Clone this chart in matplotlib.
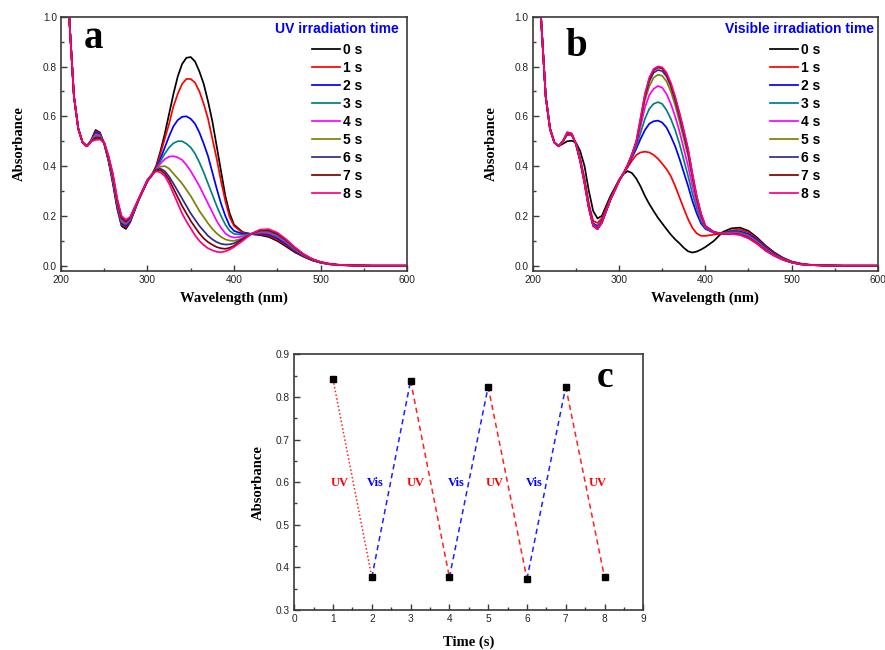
import matplotlib
matplotlib.use("Agg")
import matplotlib.pyplot as plt
from matplotlib.ticker import MultipleLocator

# longueurs d'onde communes (nm)
wl = [200, 205, 210, 215, 220, 225, 230, 235, 240, 245, 250, 255, 260, 265, 270, 275, 280, 290,
      300, 305, 310, 315, 320, 325, 330, 335, 340, 345, 350, 355, 360, 365, 370, 375, 380, 385, 390, 395, 400,
      410, 420, 430, 440, 450, 460, 470, 480, 490, 500, 510, 520, 540, 560, 600]

labels_t = ["0 s", "1 s", "2 s", "3 s", "4 s", "5 s", "6 s", "7 s", "8 s"]

# spectres sous irradiation UV (panel a)
a_0s = [1.8, 1.3, 0.97, 0.68, 0.55, 0.495, 0.48, 0.505, 0.545, 0.535, 0.49, 0.42, 0.33, 0.23, 0.16, 0.148, 0.175, 0.265,
        0.34, 0.365, 0.40, 0.46, 0.53, 0.61, 0.69, 0.76, 0.81, 0.835, 0.838, 0.82, 0.78, 0.73, 0.66, 0.58, 0.48, 0.38, 0.28, 0.21, 0.165,
        0.135, 0.127, 0.123, 0.116, 0.100, 0.078, 0.055, 0.037, 0.022, 0.012, 0.006, 0.003, 0.001, 0.0, 0.0]
a_1s = [1.8, 1.3, 0.97, 0.68, 0.55, 0.495, 0.48, 0.503, 0.54, 0.532, 0.49, 0.422, 0.335, 0.235, 0.165, 0.155, 0.178, 0.266,
        0.34, 0.363, 0.395, 0.45, 0.51, 0.57, 0.64, 0.69, 0.73, 0.75, 0.75, 0.735, 0.70, 0.65, 0.59, 0.51, 0.43, 0.34, 0.26, 0.195, 0.16,
        0.132, 0.128, 0.126, 0.121, 0.105, 0.083, 0.059, 0.039, 0.023, 0.013, 0.006, 0.003, 0.001, 0.0, 0.0]
a_2s = [1.8, 1.3, 0.97, 0.68, 0.55, 0.495, 0.48, 0.502, 0.535, 0.528, 0.49, 0.425, 0.34, 0.24, 0.17, 0.16, 0.18, 0.267,
        0.34, 0.362, 0.39, 0.43, 0.475, 0.52, 0.56, 0.585, 0.598, 0.60, 0.59, 0.57, 0.535, 0.49, 0.44, 0.375, 0.31, 0.25, 0.20, 0.16, 0.14,
        0.128, 0.128, 0.129, 0.126, 0.111, 0.088, 0.062, 0.041, 0.024, 0.013, 0.007, 0.003, 0.001, 0.0, 0.0]
a_3s = [1.8, 1.3, 0.97, 0.68, 0.55, 0.495, 0.48, 0.5, 0.53, 0.525, 0.49, 0.428, 0.345, 0.245, 0.175, 0.165, 0.183, 0.268,
        0.342, 0.362, 0.388, 0.42, 0.45, 0.475, 0.492, 0.50, 0.50, 0.49, 0.475, 0.45, 0.415, 0.375, 0.33, 0.285, 0.24, 0.20, 0.165, 0.14, 0.128,
        0.124, 0.128, 0.132, 0.130, 0.116, 0.093, 0.065, 0.042, 0.025, 0.014, 0.007, 0.003, 0.001, 0.0, 0.0]
a_4s = [1.8, 1.3, 0.97, 0.68, 0.55, 0.495, 0.48, 0.5, 0.525, 0.522, 0.492, 0.43, 0.35, 0.25, 0.18, 0.17, 0.186, 0.268,
        0.342, 0.362, 0.388, 0.41, 0.428, 0.438, 0.44, 0.435, 0.425, 0.405, 0.38, 0.35, 0.32, 0.285, 0.25, 0.215, 0.18, 0.152, 0.13, 0.118, 0.113,
        0.117, 0.128, 0.135, 0.134, 0.120, 0.097, 0.068, 0.044, 0.026, 0.014, 0.007, 0.003, 0.001, 0.0, 0.0]
a_5s = [1.8, 1.3, 0.97, 0.68, 0.55, 0.495, 0.48, 0.5, 0.52, 0.518, 0.492, 0.433, 0.355, 0.255, 0.185, 0.173, 0.19, 0.269,
        0.343, 0.363, 0.388, 0.398, 0.40, 0.39, 0.37, 0.35, 0.33, 0.305, 0.28, 0.25, 0.22, 0.195, 0.17, 0.148, 0.13, 0.116, 0.106, 0.101, 0.10,
        0.11, 0.128, 0.138, 0.138, 0.124, 0.100, 0.070, 0.045, 0.026, 0.014, 0.007, 0.003, 0.001, 0.0, 0.0]
a_6s = [1.8, 1.3, 0.97, 0.68, 0.55, 0.495, 0.48, 0.5, 0.515, 0.515, 0.493, 0.435, 0.36, 0.26, 0.19, 0.176, 0.192, 0.269,
        0.344, 0.365, 0.386, 0.39, 0.38, 0.358, 0.33, 0.30, 0.27, 0.24, 0.21, 0.185, 0.16, 0.14, 0.12, 0.106, 0.095, 0.088, 0.085, 0.086, 0.09,
        0.108, 0.128, 0.141, 0.141, 0.127, 0.103, 0.072, 0.046, 0.027, 0.015, 0.008, 0.004, 0.001, 0.0, 0.0]
a_7s = [1.8, 1.3, 0.97, 0.68, 0.55, 0.495, 0.48, 0.5, 0.51, 0.51, 0.494, 0.438, 0.365, 0.265, 0.195, 0.18, 0.194, 0.27,
        0.345, 0.366, 0.383, 0.384, 0.37, 0.345, 0.31, 0.275, 0.24, 0.21, 0.18, 0.155, 0.13, 0.11, 0.095, 0.084, 0.075, 0.07, 0.068, 0.072, 0.08,
        0.105, 0.128, 0.143, 0.144, 0.130, 0.105, 0.074, 0.047, 0.027, 0.015, 0.008, 0.004, 0.001, 0.0, 0.0]
a_8s = [1.8, 1.3, 0.97, 0.68, 0.55, 0.495, 0.48, 0.5, 0.505, 0.507, 0.495, 0.44, 0.37, 0.27, 0.20, 0.185, 0.196, 0.27,
        0.345, 0.367, 0.379, 0.375, 0.36, 0.33, 0.29, 0.25, 0.21, 0.178, 0.15, 0.122, 0.10, 0.083, 0.07, 0.062, 0.056, 0.054, 0.058, 0.065, 0.075,
        0.10, 0.128, 0.145, 0.147, 0.133, 0.107, 0.075, 0.048, 0.028, 0.015, 0.008, 0.004, 0.001, 0.0, 0.0]

# spectres sous irradiation visible (panel b)
b_0s = [1.8, 1.3, 0.97, 0.68, 0.55, 0.495, 0.48, 0.49, 0.50, 0.502, 0.495, 0.46, 0.40, 0.30, 0.22, 0.19, 0.20, 0.28,
        0.345, 0.368, 0.38, 0.372, 0.35, 0.318, 0.28, 0.248, 0.22, 0.193, 0.17, 0.147, 0.125, 0.106, 0.09, 0.072, 0.058, 0.053, 0.057, 0.065, 0.075,
        0.10, 0.135, 0.15, 0.153, 0.14, 0.113, 0.08, 0.053, 0.032, 0.017, 0.009, 0.004, 0.001, 0.0, 0.0]
b_1s = [1.8, 1.3, 0.97, 0.68, 0.55, 0.495, 0.48, 0.5, 0.525, 0.525, 0.49, 0.43, 0.35, 0.25, 0.18, 0.172, 0.19, 0.27,
        0.345, 0.37, 0.395, 0.422, 0.445, 0.455, 0.458, 0.455, 0.445, 0.43, 0.41, 0.388, 0.36, 0.32, 0.275, 0.23, 0.187, 0.152, 0.13, 0.12, 0.12,
        0.125, 0.13, 0.142, 0.145, 0.134, 0.108, 0.076, 0.05, 0.03, 0.016, 0.008, 0.004, 0.001, 0.0, 0.0]
b_2s = [1.8, 1.3, 0.97, 0.68, 0.55, 0.495, 0.48, 0.5, 0.53, 0.528, 0.49, 0.425, 0.34, 0.24, 0.17, 0.16, 0.18, 0.268,
        0.343, 0.37, 0.40, 0.435, 0.47, 0.51, 0.545, 0.57, 0.58, 0.583, 0.575, 0.555, 0.52, 0.48, 0.43, 0.375, 0.32, 0.26, 0.21, 0.17, 0.148,
        0.132, 0.13, 0.138, 0.138, 0.127, 0.103, 0.072, 0.047, 0.028, 0.015, 0.008, 0.004, 0.001, 0.0, 0.0]
b_3s = [1.8, 1.3, 0.97, 0.68, 0.55, 0.495, 0.48, 0.5, 0.532, 0.53, 0.49, 0.424, 0.337, 0.237, 0.166, 0.155, 0.177, 0.267,
        0.342, 0.37, 0.402, 0.44, 0.48, 0.535, 0.59, 0.63, 0.65, 0.657, 0.65, 0.625, 0.59, 0.545, 0.49, 0.425, 0.36, 0.29, 0.23, 0.18, 0.152,
        0.133, 0.13, 0.135, 0.134, 0.122, 0.099, 0.069, 0.045, 0.027, 0.015, 0.007, 0.003, 0.001, 0.0, 0.0]
b_4s = [1.8, 1.3, 0.97, 0.68, 0.55, 0.495, 0.48, 0.5, 0.533, 0.53, 0.49, 0.423, 0.335, 0.235, 0.164, 0.152, 0.175, 0.266,
        0.341, 0.37, 0.403, 0.443, 0.49, 0.56, 0.635, 0.685, 0.71, 0.722, 0.715, 0.69, 0.65, 0.60, 0.54, 0.47, 0.40, 0.32, 0.25, 0.19, 0.155,
        0.134, 0.129, 0.132, 0.13, 0.118, 0.095, 0.066, 0.043, 0.026, 0.014, 0.007, 0.003, 0.001, 0.0, 0.0]
b_5s = [1.8, 1.3, 0.97, 0.68, 0.55, 0.495, 0.48, 0.5, 0.534, 0.53, 0.49, 0.422, 0.333, 0.233, 0.162, 0.15, 0.174, 0.266,
        0.341, 0.37, 0.404, 0.445, 0.495, 0.575, 0.665, 0.72, 0.755, 0.767, 0.763, 0.74, 0.70, 0.645, 0.58, 0.51, 0.44, 0.35, 0.265, 0.20, 0.158,
        0.135, 0.129, 0.13, 0.128, 0.115, 0.092, 0.063, 0.042, 0.025, 0.013, 0.006, 0.003, 0.001, 0.0, 0.0]
b_6s = [1.8, 1.3, 0.97, 0.68, 0.55, 0.495, 0.48, 0.5, 0.535, 0.53, 0.49, 0.421, 0.332, 0.232, 0.161, 0.148, 0.173, 0.265,
        0.34, 0.37, 0.404, 0.446, 0.497, 0.585, 0.68, 0.74, 0.775, 0.786, 0.782, 0.76, 0.72, 0.665, 0.60, 0.53, 0.455, 0.36, 0.272, 0.205, 0.159,
        0.135, 0.128, 0.129, 0.126, 0.113, 0.09, 0.062, 0.041, 0.024, 0.013, 0.006, 0.003, 0.001, 0.0, 0.0]
b_7s = [1.8, 1.3, 0.97, 0.68, 0.55, 0.495, 0.48, 0.5, 0.535, 0.53, 0.49, 0.42, 0.331, 0.231, 0.16, 0.147, 0.172, 0.265,
        0.34, 0.37, 0.405, 0.447, 0.498, 0.59, 0.685, 0.75, 0.785, 0.796, 0.792, 0.77, 0.728, 0.673, 0.61, 0.54, 0.465, 0.367, 0.277, 0.207, 0.16,
        0.135, 0.128, 0.128, 0.125, 0.111, 0.089, 0.061, 0.04, 0.024, 0.013, 0.006, 0.003, 0.001, 0.0, 0.0]
b_8s = [1.8, 1.3, 0.97, 0.68, 0.55, 0.495, 0.48, 0.5, 0.536, 0.53, 0.49, 0.42, 0.33, 0.23, 0.16, 0.146, 0.172, 0.265,
        0.34, 0.37, 0.405, 0.448, 0.50, 0.595, 0.69, 0.755, 0.79, 0.80, 0.797, 0.775, 0.735, 0.68, 0.615, 0.545, 0.47, 0.37, 0.28, 0.21, 0.16,
        0.135, 0.128, 0.128, 0.124, 0.11, 0.088, 0.06, 0.04, 0.024, 0.013, 0.006, 0.003, 0.001, 0.0, 0.0]

# cyclage (panel c)
temps = [1, 2, 3, 4, 5, 6, 7, 8]
absorb = [0.841, 0.377, 0.838, 0.377, 0.824, 0.373, 0.824, 0.377]
etape_txt = ["UV", "Vis", "UV", "Vis", "UV", "Vis", "UV"]
etape_x = [1.18, 2.10, 3.14, 4.17, 5.16, 6.18, 7.82]

couleurs = ["#000000", "#FF0000", "#0000FF", "#008080", "#FF00FF", "#808000", "#2B2B8F", "#800000", "#FF0080"]
spine_col = "#3a3a3a"
sans = "Liberation Sans"
serif = "Liberation Serif"


def style_axe(ax, xmaj, xmin, ymaj, ymin):
    for s in ax.spines.values():
        s.set_color(spine_col)
        s.set_linewidth(1.2)
    ax.xaxis.set_major_locator(MultipleLocator(xmaj))
    ax.xaxis.set_minor_locator(MultipleLocator(xmin))
    ax.yaxis.set_major_locator(MultipleLocator(ymaj))
    ax.yaxis.set_minor_locator(MultipleLocator(ymin))
    ax.tick_params(which="both", direction="in", top=False, right=False, color=spine_col, width=1.0)
    ax.tick_params(which="major", length=4, pad=3, labelsize=7.3, labelcolor="#222222")
    ax.tick_params(which="minor", length=2.5)
    for lab in ax.get_xticklabels() + ax.get_yticklabels():
        lab.set_family(sans)


fig = plt.figure(figsize=(8.85, 6.5), dpi=100)
ax_a = fig.add_axes([0.0689, 0.5835, 0.391, 0.3908])
ax_b = fig.add_axes([0.602, 0.5835, 0.390, 0.3908])
ax_c = fig.add_axes([0.3325, 0.0615, 0.3944, 0.3934])

# (axe, courbes, titre legende, x titre, x legende, lettre, x lettre, y lettre)
panneaux = [
    (ax_a, [a_0s, a_1s, a_2s, a_3s, a_4s, a_5s, a_6s, a_7s, a_8s], "UV irradiation time", 0.796, 0.725, "a", 0.095, 0.878),
    (ax_b, [b_0s, b_1s, b_2s, b_3s, b_4s, b_5s, b_6s, b_7s, b_8s], "Visible irradiation time", 0.772, 0.688, "b", 0.125, 0.845),
]
for ax, series, titre, xtit, xleg, lettre, xlet, ylet in panneaux:
    for serie, col, lab in zip(series, couleurs, labels_t):
        ax.plot(wl, serie, color=col, lw=1.25, label=lab)
    ax.set_xlim(200, 600)
    ax.set_ylim(-0.02, 1.0)
    style_axe(ax, 100, 50, 0.2, 0.1)
    ax.set_xlabel("Wavelength (nm)", family=serif, fontweight="bold", fontsize=10.5, labelpad=5)
    ax.set_ylabel("Absorbance", family=serif, fontweight="bold", fontsize=10.5, labelpad=12)
    ax.legend(loc="upper left", bbox_to_anchor=(xleg, 0.897), frameon=False,
              prop={"family": sans, "weight": "bold", "size": 10},
              handlelength=2.0, handletextpad=0.25, labelspacing=0.29, borderpad=0, borderaxespad=0)
    ax.text(xtit, 0.951, titre, transform=ax.transAxes, ha="center", va="center", color="#0000FF",
            family=sans, fontweight="bold", fontsize=10)
    ax.text(xlet, ylet, lettre, transform=ax.transAxes, ha="center", va="baseline",
            family=serif, fontweight="bold", fontsize=28)

# panel c : cycles UV / visible
for i in range(len(temps) - 1):
    if i % 2 == 0:
        col = "#FF2020"
    else:
        col = "#2020FF"
    if i == 0:
        ax_c.plot(temps[i:i + 2], absorb[i:i + 2], color=col, lw=1.1, ls=(0, (1, 1.5)))
    else:
        ax_c.plot(temps[i:i + 2], absorb[i:i + 2], color=col, lw=1.1, ls=(0, (3.5, 2.5)))
ax_c.plot(temps, absorb, ls="none", marker="s", ms=5, color="black", zorder=5)
for x, t in zip(etape_x, etape_txt):
    ax_c.text(x, 0.597, t, color="#FF0000" if t == "UV" else "#0000FF", ha="center", va="center",
              family=serif, fontweight="bold", fontsize=9)
ax_c.set_xlim(0, 9)
ax_c.set_ylim(0.3, 0.9)
style_axe(ax_c, 1, 0.5, 0.1, 0.05)
ax_c.set_xlabel("Time (s)", family=serif, fontweight="bold", fontsize=10.5, labelpad=8)
ax_c.set_ylabel("Absorbance", family=serif, fontweight="bold", fontsize=10.5, labelpad=8)
ax_c.text(0.89, 0.873, "c", transform=ax_c.transAxes, ha="center", va="baseline",
          family=serif, fontweight="bold", fontsize=27)

fig.savefig("out.png", dpi=100)
